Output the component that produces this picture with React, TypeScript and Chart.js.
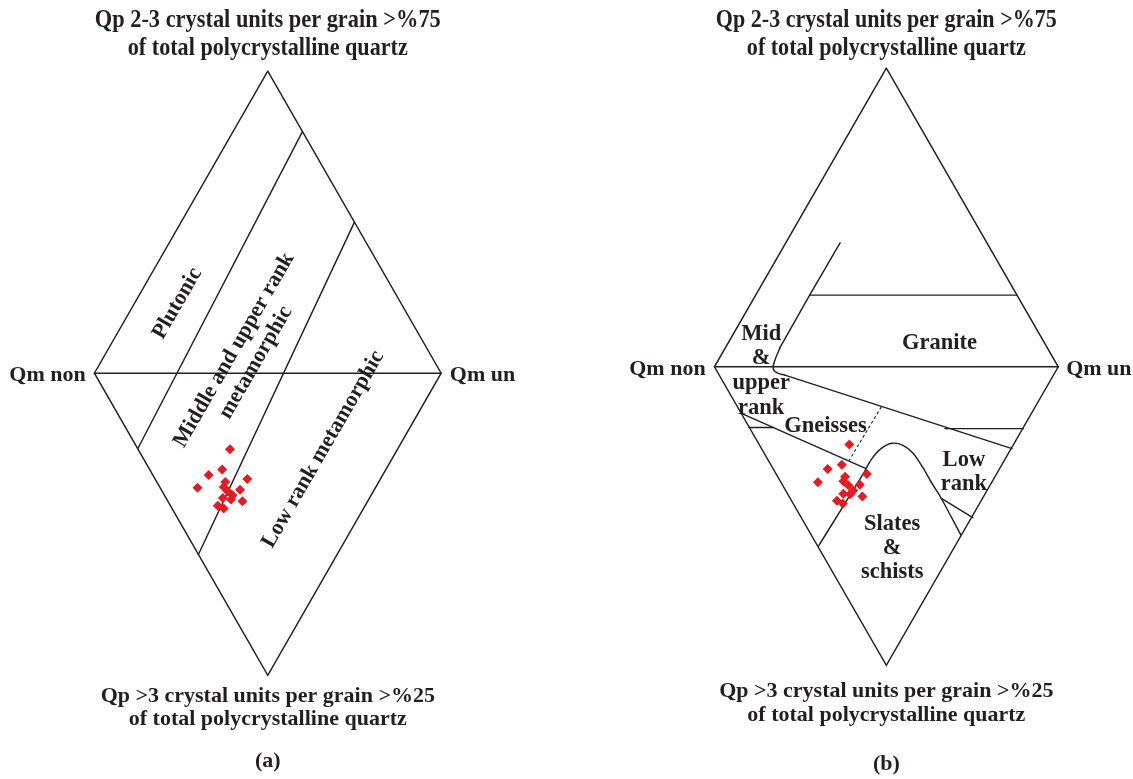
import React, { useEffect, useRef } from 'react';
import { Chart, registerables } from 'chart.js';

Chart.register(...registerables);

// ---------------------------------------------------------------------------
// Diamond (Basu) coordinates: h = -100 at "Qm non" (left vertex), +100 at "Qm un" (right vertex)
// v = +100 at "Qp 2-3" (top vertex), -100 at "Qp >3" (bottom vertex)
// ---------------------------------------------------------------------------
const DIAMOND_H = [0, 100, 0, -100, 0];
const DIAMOND_V = [100, 0, -100, 0, 100];
const MIDLINE_H = [-100, 100];
const MIDLINE_V = [0, 0];

// Panel (a) field boundaries
const A_PLUTONIC_H = [20, -75];
const A_PLUTONIC_V = [80, -25];
const A_LOWRANK_H = [50, -40];
const A_LOWRANK_V = [50, -60];

// Panel (a) samples
const A_SAMPLE_H = [-21.8, -26.3, -34.1, -11.8, -40.5, -24.5, -25.4, -23.1, -16.0, -20.3, -25.9, -21.2, -14.6, -28.8, -25.4];
const A_SAMPLE_V = [-25.2, -31.9, -33.7, -35.0, -37.9, -36.0, -37.7, -39.1, -38.6, -40.4, -41.3, -41.8, -42.4, -43.9, -44.8];

// Panel (b) field boundaries
const B_MID_UPPER_H = [-26.9, -44.6, -61.8];
const B_MID_UPPER_V = [41.5, 24.0, 6.5];
const B_MID_BEND_H = [-61.8, -64.3, -65.8, -65.4, -63.2, -59.0];
const B_MID_BEND_V = [6.5, 3.0, 0.2, -1.2, -2.1, -2.8];
const B_MID_LOWER_H = [-59.0, 73.1];
const B_MID_LOWER_V = [-2.8, -27.4];
const B_GRANITE_H = [-44.6, 76.0];
const B_GRANITE_V = [24.0, 24.0];
const B_LOWRANK_TOP_H = [34.1, 79.7];
const B_LOWRANK_TOP_V = [-20.7, -20.7];
const B_LOWRANK_BASE_H = [32.0, 50.3];
const B_LOWRANK_BASE_V = [-44.1, -50.5];
const B_GNEISS_BASE_H = [-84.0, -11.8];
const B_GNEISS_BASE_V = [-15.7, -34.1];
const B_RANK_TICK_H = [-80.0, -65.7];
const B_RANK_TICK_V = [-20.3, -20.3];
const B_DASH_H = [-2.9, -21.7];
const B_DASH_V = [-13.4, -31.4];
const B_BELL_H = [-39.4, -26.3, -13.1, -8.6, -2.9, 3.4, 9.7, 15.4, 21.1, 26.3, 32.0, 43.4];
const B_BELL_V = [-60.0, -47.8, -35.5, -30.9, -27.3, -25.6, -26.3, -28.9, -33.6, -38.8, -44.1, -56.4];

// Panel (b) samples
const B_SAMPLE_H = [-21.5, -25.9, -34.1, -11.3, -39.8, -24.0, -25.0, -22.1, -15.4, -19.3, -25.0, -21.1, -13.9, -28.7, -25.3];
const B_SAMPLE_V = [-26.0, -32.8, -34.2, -35.9, -38.7, -36.8, -38.3, -39.7, -39.5, -41.4, -42.5, -42.7, -43.4, -44.9, -45.8];

// Text
const TOP_LABEL = ['Qp 2-3 crystal units per grain >%75', 'of total polycrystalline quartz'];
const BOTTOM_LABEL = ['Qp >3 crystal units per grain >%25', 'of total polycrystalline quartz'];

// ---------------------------------------------------------------------------
const INK = '#231f20';
const RED = '#e31b23';
const PAGE_W = 1133;
const PAGE_H = 779;
const FONT = '"Liberation Serif", "Times New Roman", serif';

type Panel = { left: number; width: number; cx: number; cy: number; hw: number; hh: number };
const PANEL_A: Panel = { left: 0, width: 566, cx: 267.5, cy: 373, hw: 176.5, hh: 306 };
const PANEL_B: Panel = { left: 566, width: 567, cx: 887, cy: 366.5, hw: 175, hh: 302.5 };

type Label = {
  lines: string[];
  h: number;
  v: number;
  size: number;
  rot?: number;
  align?: CanvasTextAlign;
  lh?: number;
  fit?: number[];
};

const LABELS_A: Label[] = [
  { lines: TOP_LABEL, h: 0, v: 113.3, size: 26, lh: 28, fit: [346, 280] },
  { lines: BOTTOM_LABEL, h: 0, v: -109.9, size: 22, lh: 23.5 },
  { lines: ['(a)'], h: 0, v: -127.6, size: 22 },
  { lines: ['Qm non'], h: -105.0, v: 0, size: 22, align: 'right' },
  { lines: ['Qm un'], h: 105.0, v: 0, size: 22, align: 'left' },
  { lines: ['Plutonic'], h: -53.4, v: 23.5, size: 22, rot: -60 },
  { lines: ['Middle and upper rank', 'metamorphic'], h: -14.4, v: 6.0, size: 22, rot: -60, lh: 25 },
  { lines: ['Low rank metamorphic'], h: 30.7, v: -24.8, size: 22, rot: -60 },
];

const LABELS_B: Label[] = [
  { lines: TOP_LABEL, h: 0, v: 112.4, size: 26, lh: 28, fit: [341, 279] },
  { lines: BOTTOM_LABEL, h: 0, v: -111.9, size: 22, lh: 24 },
  { lines: ['(b)'], h: 0, v: -132.2, size: 22 },
  { lines: ['Qm non'], h: -105.1, v: 0, size: 22, align: 'right' },
  { lines: ['Qm un'], h: 104.6, v: 0, size: 22, align: 'left' },
  { lines: ['Mid', '&', 'upper', 'rank'], h: -72.8, v: -0.5, size: 22.5, lh: 24.7 },
  { lines: ['Gneisses'], h: -35.4, v: -19.0, size: 22.5 },
  { lines: ['Granite'], h: 30.9, v: 8.8, size: 22.5 },
  { lines: ['Low', 'rank'], h: 45.1, v: -34.5, size: 22.5, lh: 24 },
  { lines: ['Slates', '&', 'schists'], h: 3.4, v: -60.0, size: 22.5, lh: 24 },
];

function pts(h: number[], v: number[]) {
  return h.map((x, i) => ({ x, y: v[i] }));
}

function line(h: number[], v: number[], extra: Record<string, unknown> = {}) {
  return {
    data: pts(h, v),
    showLine: true,
    pointRadius: 0,
    borderColor: INK,
    backgroundColor: INK,
    borderWidth: 1.45,
    borderJoinStyle: 'miter',
    borderCapStyle: 'round',
    fill: false,
    tension: 0,
    ...extra,
  };
}

function samples(h: number[], v: number[]) {
  return {
    data: pts(h, v),
    showLine: false,
    pointStyle: 'rectRot',
    pointRadius: 5,
    borderWidth: 0,
    backgroundColor: RED,
    borderColor: RED,
  };
}

const DATASETS_A = () => [
  samples(A_SAMPLE_H, A_SAMPLE_V),
  line(DIAMOND_H, DIAMOND_V),
  line(MIDLINE_H, MIDLINE_V),
  line(A_PLUTONIC_H, A_PLUTONIC_V),
  line(A_LOWRANK_H, A_LOWRANK_V),
];

const DATASETS_B = () => [
  samples(B_SAMPLE_H, B_SAMPLE_V),
  line(DIAMOND_H, DIAMOND_V),
  line(MIDLINE_H, MIDLINE_V),
  line(B_MID_UPPER_H, B_MID_UPPER_V),
  line(B_MID_BEND_H, B_MID_BEND_V, { tension: 0.4 }),
  line(B_MID_LOWER_H, B_MID_LOWER_V),
  line(B_GRANITE_H, B_GRANITE_V),
  line(B_LOWRANK_TOP_H, B_LOWRANK_TOP_V),
  line(B_LOWRANK_BASE_H, B_LOWRANK_BASE_V),
  line(B_GNEISS_BASE_H, B_GNEISS_BASE_V),
  line(B_RANK_TICK_H, B_RANK_TICK_V),
  line(B_DASH_H, B_DASH_V, { borderDash: [3, 2.5], borderWidth: 1.1, borderCapStyle: 'butt' }),
  line(B_BELL_H, B_BELL_V, { tension: 0.3 }),
];

function makeTextPlugin(labels: Label[]) {
  return {
    id: 'diamondText',
    afterDatasetsDraw(chart: any) {
      const ctx: CanvasRenderingContext2D = chart.ctx;
      const xs = chart.scales.x;
      const ys = chart.scales.y;
      ctx.save();
      ctx.fillStyle = INK;
      ctx.textBaseline = 'middle';
      for (const lab of labels) {
        const px = xs.getPixelForValue(lab.h);
        const py = ys.getPixelForValue(lab.v);
        const lh = lab.lh ?? lab.size * 1.1;
        const n = lab.lines.length;
        ctx.save();
        ctx.translate(px, py);
        if (lab.rot) ctx.rotate((lab.rot * Math.PI) / 180);
        ctx.font = `bold ${lab.size}px ${FONT}`;
        ctx.textAlign = lab.align ?? 'center';
        lab.lines.forEach((t, i) => {
          const dy = (i - (n - 1) / 2) * lh + lab.size * 0.11;
          const target = lab.fit ? lab.fit[i] : undefined;
          ctx.save();
          ctx.translate(0, dy);
          if (target) {
            const w = ctx.measureText(t).width;
            if (w > 0) ctx.scale(target / w, 1);
          }
          ctx.fillText(t, 0, 0);
          ctx.restore();
        });
        ctx.restore();
      }
      ctx.restore();
    },
  };
}

function DiamondPanel({ panel, datasets, labels }: { panel: Panel; datasets: () => any[]; labels: Label[] }) {
  const ref = useRef<HTMLCanvasElement | null>(null);
  useEffect(() => {
    if (!ref.current) return;
    const xMin = ((panel.left - panel.cx) / panel.hw) * 100;
    const xMax = ((panel.left + panel.width - panel.cx) / panel.hw) * 100;
    const yMax = (panel.cy / panel.hh) * 100;
    const yMin = ((panel.cy - PAGE_H) / panel.hh) * 100;
    const chart = new Chart(ref.current, {
      type: 'scatter',
      data: { datasets: datasets() as any },
      options: {
        responsive: false,
        maintainAspectRatio: false,
        animation: false,
        events: [],
        layout: { padding: 0 },
        plugins: { legend: { display: false }, tooltip: { enabled: false } },
        scales: {
          x: { type: 'linear', display: false, min: xMin, max: xMax },
          y: { type: 'linear', display: false, min: yMin, max: yMax },
        },
      },
      plugins: [makeTextPlugin(labels)],
    });
    return () => chart.destroy();
  }, []);
  return (
    <canvas
      ref={ref}
      width={panel.width}
      height={PAGE_H}
      style={{ position: 'absolute', left: panel.left, top: 0, width: panel.width, height: PAGE_H, display: 'block' }}
    />
  );
}

export default function App() {
  return (
    <div
      style={{
        position: 'fixed',
        left: 0,
        top: 0,
        width: PAGE_W,
        height: PAGE_H,
        background: '#ffffff',
        overflow: 'hidden',
      }}
    >
      <DiamondPanel panel={PANEL_A} datasets={DATASETS_A} labels={LABELS_A} />
      <DiamondPanel panel={PANEL_B} datasets={DATASETS_B} labels={LABELS_B} />
    </div>
  );
}
